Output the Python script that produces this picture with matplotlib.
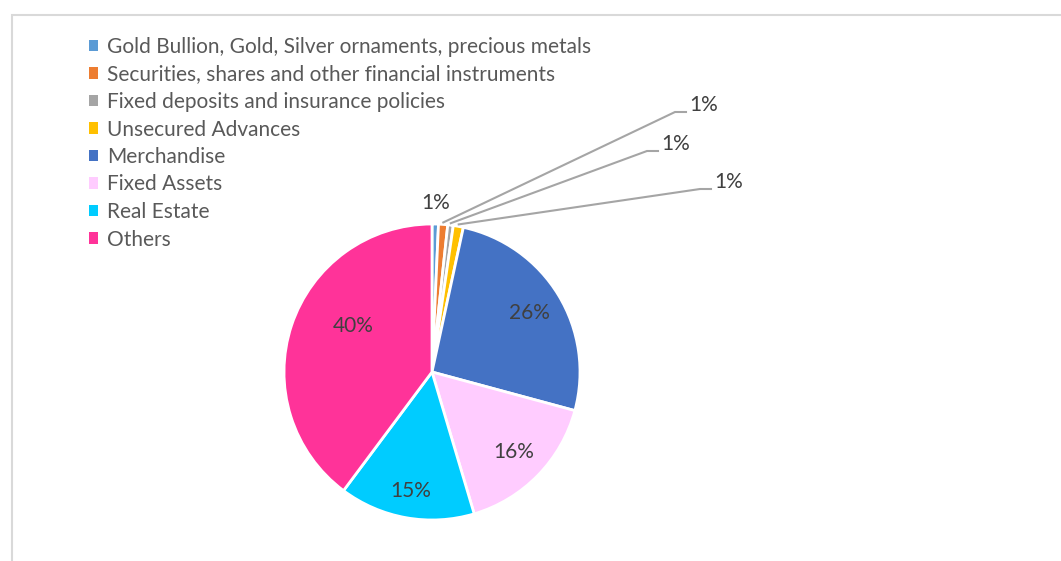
import numpy as np
import matplotlib
matplotlib.use('Agg')
import matplotlib.pyplot as plt
from matplotlib.patches import Patch, Rectangle

# Data
categories = ['Gold Bullion, Gold, Silver ornaments, precious metals',
              'Securities, shares and other financial instruments',
              'Fixed deposits and insurance policies',
              'Unsecured Advances',
              'Merchandise',
              'Fixed Assets',
              'Real Estate',
              'Others']
shares = [0.7, 1.0, 0.6, 1.1, 25.8, 16.2, 14.8, 39.8]
pct_labels = ['1%', '1%', '1%', '1%', '26%', '16%', '15%', '40%']
colors = ['#5B9BD5', '#ED7D31', '#A5A5A5', '#FFC000',
          '#4472C4', '#FFCCFF', '#00CCFF', '#FF3399']

W, H = 1061, 561
plt.rcParams['font.family'] = ['Lato', 'DejaVu Sans']

fig = plt.figure(figsize=(W / 100, H / 100), dpi=100)
ax = fig.add_axes([0, 0, 1, 1])
ax.set_xlim(0, W)
ax.set_ylim(0, H)
ax.axis('off')

# chart frame (runs off the right / bottom edge)
ax.add_patch(Rectangle((11.5, -20), W + 40, H - 14.5 + 20, fill=False,
                       edgecolor='#D9D9D9', lw=1.5))

cx, cy, R = 432, H - 372, 148
wedges, _ = ax.pie(shares, colors=colors, startangle=90, counterclock=False,
                   center=(cx, cy), radius=R, frame=True,
                   wedgeprops=dict(edgecolor='white', linewidth=2))
ax.set_xlim(0, W)
ax.set_ylim(0, H)
ax.set_aspect('equal')
ax.axis('off')

def point(w, r, shift=0.0):
    ang = np.deg2rad((w.theta1 + w.theta2) / 2 + shift)
    return cx + r * np.cos(ang), cy + r * np.sin(ang)

fs = 15
txt = dict(fontsize=fs, color='#404040', ha='center', va='center')

# inside labels
inside = {4: (0.77, 0), 5: (0.77, 0), 6: (0.82, 0), 7: (0.62, -12)}
for i, (d, s) in inside.items():
    x, y = point(wedges[i], d * R, s)
    ax.text(x, y, pct_labels[i], **txt)

# gold label just above its slice
x, y = point(wedges[0], 1.14 * R)
ax.text(x, y, pct_labels[0], **txt)

# leader-line labels for the other thin slices
elbows = {1: ((675, 112), (686, 112)),
          2: ((647, 151), (658, 151)),
          3: ((700, 189), (711, 189))}
for i, ((ex, ey), (hx, hy)) in elbows.items():
    sx, sy = point(wedges[i], R + 2)
    ax.plot([sx, ex, hx], [sy, H - ey, H - hy], color='#A5A5A5', lw=1.5,
            solid_joinstyle='miter')
    ax.text(hx + 3, H - hy + 7, pct_labels[i], fontsize=fs, color='#404040',
            ha='left', va='center')

handles = [Patch(facecolor=c, edgecolor='none') for c in colors]
fig.legend(handles, categories, loc='upper left',
           bbox_to_anchor=(89 / W, 1 - 37 / H), frameon=False,
           fontsize=fs, labelcolor='#595959', handlelength=0.45,
           handleheight=0.45, handletextpad=0.4, labelspacing=0.36,
           borderpad=0, borderaxespad=0)

fig.savefig('out.png', dpi=100)
